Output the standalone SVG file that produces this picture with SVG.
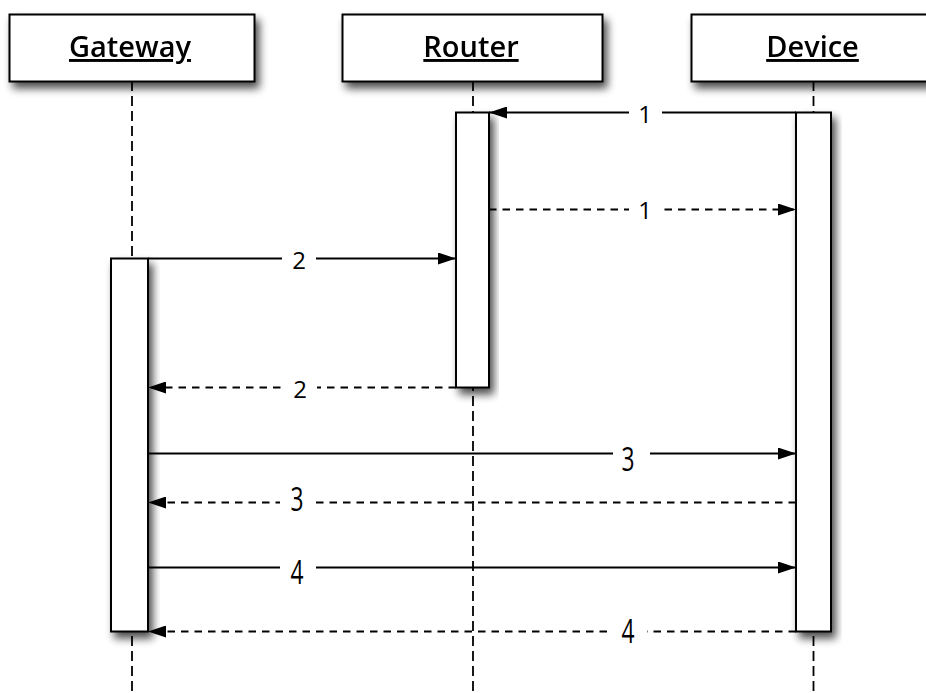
<svg xmlns="http://www.w3.org/2000/svg" width="926" height="693" viewBox="0 0 926 693">
<style>
.box{fill:#fff;stroke:#000;stroke-width:2}
.act{fill:#fff;stroke:#000;stroke-width:2}
.life{stroke:#000;stroke-width:1.8;stroke-dasharray:10,5;fill:none}
.msg{stroke:#000;stroke-width:1.8;fill:none}
.dash{stroke-dasharray:7.5,6}
.title{font-family:"Open Sans","Noto Sans","Liberation Sans",sans-serif;font-size:29px;font-weight:600;text-anchor:middle;text-decoration:underline}
.lbl{font-family:"Open Sans","Noto Sans","Liberation Sans",sans-serif;font-size:24px;text-anchor:middle;fill:#000}
.lbl2{font-family:"Open Sans","Noto Sans","Liberation Sans",sans-serif;font-size:32px;font-weight:400;text-anchor:middle;fill:#000}
.bg{fill:#fff}
</style>
<defs>
<filter id="sh" x="-30%" y="-30%" width="160%" height="160%">
<feGaussianBlur in="SourceAlpha" stdDeviation="4"/>
<feOffset dx="4" dy="6" result="b"/>
<feComponentTransfer><feFuncA type="linear" slope="0.7"/></feComponentTransfer>
<feMerge><feMergeNode/><feMergeNode in="SourceGraphic"/></feMerge>
</filter>
<marker id="ah" markerWidth="18" markerHeight="12" refX="18" refY="6" orient="auto" markerUnits="userSpaceOnUse">
<path d="M0,0 L18,6 L0,12 Z" fill="#000"/>
</marker>
</defs>
<rect width="926" height="693" fill="#fff"/>
<g id="lifelines">
<line class="life" x1="132" y1="81" x2="132" y2="693"/>
<line class="life" x1="473" y1="81" x2="473" y2="693"/>
<line class="life" x1="813.5" y1="81" x2="813.5" y2="693"/>
</g>
<g id="gateway" filter="url(#sh)">
<rect class="box" x="9.5" y="14.5" width="245" height="67"/>
<text class="title" x="130" y="57">Gateway</text>
</g>
<g id="router" filter="url(#sh)">
<rect class="box" x="342.5" y="14.5" width="260" height="67"/>
<text class="title" x="471" y="57">Router</text>
</g>
<g id="device" filter="url(#sh)">
<rect class="box" x="691.5" y="14.5" width="245" height="67"/>
<text class="title" x="812.5" y="57">Device</text>
</g>
<g id="gateway-activation" filter="url(#sh)">
<rect class="act" x="111" y="258.5" width="37" height="373"/>
</g>
<g id="router-activation" filter="url(#sh)">
<rect class="act" x="456" y="112.5" width="33" height="275"/>
</g>
<g id="device-activation" filter="url(#sh)">
<rect class="act" x="796" y="112.5" width="35" height="519"/>
</g>
<g id="connectors">
<line class="msg" x1="796" y1="112.5" x2="489" y2="112.5" marker-end="url(#ah)"/>
<rect class="bg" x="629" y="100" width="33" height="24"/>
<text class="lbl" x="645" y="123">1</text>

<line class="msg dash" x1="489" y1="209.5" x2="796" y2="209.5" marker-end="url(#ah)"/>
<rect class="bg" x="629" y="198" width="33" height="24"/>
<text class="lbl" x="645" y="219">1</text>

<line class="msg" x1="148" y1="258.5" x2="456" y2="258.5" marker-end="url(#ah)"/>
<rect class="bg" x="282" y="247" width="34" height="24"/>
<text class="lbl" x="299" y="269">2</text>

<line class="msg dash" x1="456" y1="387.5" x2="148" y2="387.5" marker-end="url(#ah)"/>
<rect class="bg" x="283" y="376" width="34" height="24"/>
<text class="lbl" x="300" y="398">2</text>

<line class="msg" x1="148" y1="453.5" x2="796" y2="453.5" marker-end="url(#ah)"/>
<rect class="bg" x="613" y="440" width="37" height="34"/>
<text class="lbl2" x="628" y="471" textLength="13" lengthAdjust="spacingAndGlyphs">3</text>

<line class="msg dash" x1="796" y1="502.5" x2="148" y2="502.5" marker-end="url(#ah)"/>
<rect class="bg" x="280" y="488" width="36" height="26"/>
<text class="lbl2" x="297" y="511" textLength="13" lengthAdjust="spacingAndGlyphs">3</text>

<line class="msg" x1="148" y1="567.5" x2="796" y2="567.5" marker-end="url(#ah)"/>
<rect class="bg" x="280" y="558" width="36" height="28"/>
<text class="lbl2" x="297" y="584" textLength="13" lengthAdjust="spacingAndGlyphs">4</text>

<line class="msg dash" x1="796" y1="631.5" x2="148" y2="631.5" marker-end="url(#ah)"/>
<rect class="bg" x="611" y="618" width="36" height="28"/>
<text class="lbl2" x="628" y="643" textLength="13" lengthAdjust="spacingAndGlyphs">4</text>
</g>
</svg>
